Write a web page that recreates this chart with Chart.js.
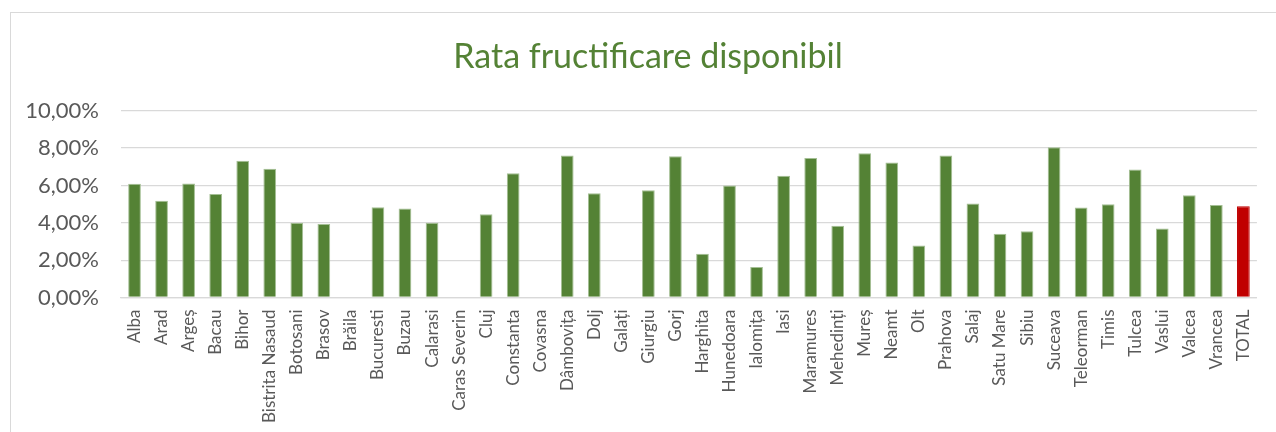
<!DOCTYPE html>
<html>
<head>
<meta charset="utf-8">
<script src="https://cdn.jsdelivr.net/npm/chart.js@4/dist/chart.umd.min.js"></script>
<style>
  html, body { margin: 0; padding: 0; background: #ffffff; overflow: hidden; }
  #frame { position: absolute; left: 10px; top: 12px; width: 1300px; height: 460px; border: 1.5px solid #d9d9d9; box-sizing: border-box; }
  #c { position: absolute; left: 0; top: 0; }
</style>
</head>
<body>
<div id="frame"></div>
<canvas id="c" width="1276" height="432"></canvas>
<script>
const categories = ["Alba","Arad","Argeș","Bacau","Bihor","Bistrita Nasaud","Botosani","Brasov","Brăila","Bucuresti","Buzau","Calarasi","Caras Severin","Cluj","Constanta","Covasna","Dâmbovița","Dolj","Galați","Giurgiu","Gorj","Harghita","Hunedoara","Ialomița","Iasi","Maramures","Mehedinți","Mureș","Neamt","Olt","Prahova","Salaj","Satu Mare","Sibiu","Suceava","Teleorman","Timis","Tulcea","Vaslui","Valcea","Vrancea","TOTAL"];
const rates = [6.09,5.18,6.11,5.55,7.32,6.89,4.00,3.94,null,4.84,4.77,4.00,null,4.46,6.66,null,7.61,5.59,null,5.75,7.56,2.34,6.00,1.64,6.52,7.47,3.84,7.72,7.23,2.79,7.61,5.04,3.41,3.55,8.05,4.82,5.00,6.86,3.70,5.48,4.95,4.89];
const yTicks = [0, 2, 4, 6, 8, 10];
const titleText = "Rata fructificare disponibil";

const GREEN = "#548235";
const RED = "#C00000";
const barColors = categories.map(c => c === "TOTAL" ? RED : GREEN);

// shift the title block so it is centred on the chart frame (which runs past the right edge)
const titleShift = {
  id: "titleShift",
  afterLayout(chart) {
    if (chart.titleBlock) { chart.titleBlock.left = 38; }
  }
};

new Chart(document.getElementById("c"), {
  type: "bar",
  data: {
    labels: categories,
    datasets: [{
      data: rates,
      backgroundColor: barColors,
      borderColor: categories.map(c => c === "TOTAL" ? RED : "#a4bf94"),
      borderWidth: 1,
      barPercentage: 0.47,
      categoryPercentage: 1.0
    }]
  },
  plugins: [titleShift],
  options: {
    responsive: false,
    animation: false,
    devicePixelRatio: 1,
    layout: { padding: { top: 0, right: 18, left: 0, bottom: 0 } },
    plugins: {
      legend: { display: false },
      tooltip: { enabled: false },
      title: {
        display: true,
        text: titleText,
        color: GREEN,
        font: { family: "Lato", size: 34, weight: "normal", lineHeight: 1.2 },
        padding: { top: 37, bottom: 33 }
      }
    },
    scales: {
      x: {
        grid: { display: false, drawTicks: false },
        border: { display: true, color: "#d9d9d9", width: 1.3 },
        ticks: {
          autoSkip: false,
          maxRotation: 90,
          minRotation: 90,
          padding: 12,
          color: "#595959",
          font: { family: "Lato", size: 17 }
        },
        afterFit: s => { s.height = 134.5; }
      },
      y: {
        min: 0,
        max: 10,
        afterBuildTicks: s => { s.ticks = yTicks.map(v => ({ value: v })); },
        grid: { color: "#d9d9d9", lineWidth: 1.3, drawTicks: false },
        border: { display: false },
        ticks: {
          padding: 22,
          color: "#595959",
          font: { family: "Lato", size: 22 },
          callback: v => v.toFixed(2).replace(".", ",") + "%"
        },
        afterFit: s => { s.width = 121; }
      }
    }
  }
});
</script>
</body>
</html>
